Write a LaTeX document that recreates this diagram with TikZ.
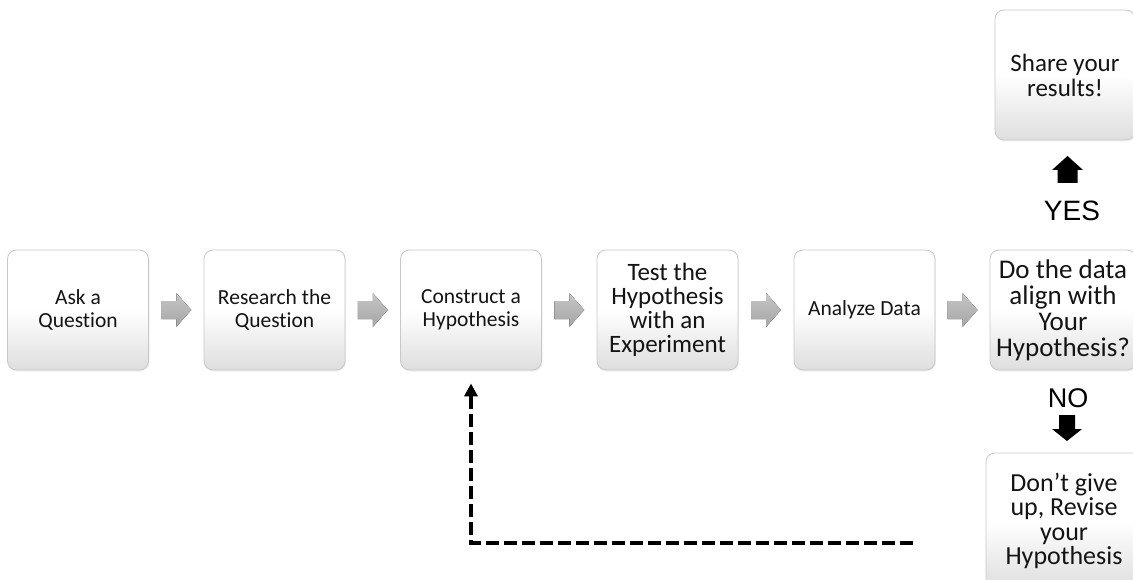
\documentclass[tikz,border=0pt]{standalone}
\usepackage{fontspec}
\setmainfont{Carlito}[Ligatures={NoCommon}]
\newfontfamily\arialfont{Liberation Sans}
\usetikzlibrary{calc,arrows.meta,shadows}
\definecolor{boxline}{RGB}{200,200,200}
\definecolor{boxbot}{RGB}{222,222,222}
\definecolor{txt}{RGB}{20,20,20}
\begin{document}
\begin{tikzpicture}[x=1pt,y=-1pt,
  stepbox/.style={draw=boxline, line width=0.8pt, rounded corners=9pt,
    top color=white, bottom color=boxbot, middle color=white,
    minimum width=141pt, minimum height=120pt, inner sep=0pt, align=center,
    text=txt, font=\fontsize{21.5}{22.5}\selectfont,
    drop shadow={opacity=0.12, shadow xshift=1pt, shadow yshift=-1.5pt}},
  answer/.style={font=\arialfont\fontsize{28}{28}\selectfont, text=black, inner sep=0pt},
  fb/.style={line width=4pt, dash pattern=on 13pt off 5pt, -{Triangle[width=13pt,length=13pt]}},
  grayarr/.pic={\fill[top color=gray!45, bottom color=gray!70]
      (-15,-9) -- (0,-9) -- (0,-17) -- (15,0) -- (0,17) -- (0,9) -- (-15,9) -- cycle;},
  uparr/.pic={\fill[black]
      (-10,13.5) -- (-10,0.5) -- (-15.5,0.5) -- (0,-13.5) -- (15.5,0.5) -- (10,0.5) -- (10,13.5) -- cycle;},
  downarr/.pic={\fill[black]
      (-8,-13) -- (-8,1) -- (-15,1) -- (0,13) -- (15,1) -- (8,1) -- (8,-13) -- cycle;}
]
\useasboundingbox (0,0) rectangle (1133,580);
\fill[white] (0,0) rectangle (1133,580);

\node[stepbox] (b1) at (78,310) {Ask a\\Question};
\node[stepbox] (b2) at (274.5,310) {Research the\\Question};
\node[stepbox] (b3) at (471,310) {Construct a\\Hypothesis};
\node[stepbox, font=\fontsize{25}{24}\selectfont] (b4) at (667.5,310) {Test the\\Hypothesis\\with an\\Experiment};
\node[stepbox] (b5) at (864.5,310) {Analyze Data};
\node[stepbox, minimum width=146pt, font=\fontsize{27}{26}\selectfont] (b6) at (1063,310) {Do the data\\align with\\Your\\Hypothesis?};
\node[stepbox, minimum width=140pt, minimum height=130pt, font=\fontsize{25}{25}\selectfont] (b7) at (1065,75) {Share your\\results!};
\node[stepbox, minimum width=156pt, minimum height=136pt, font=\fontsize{26}{24.5}\selectfont] (b8) at (1064,521) {Don’t give\\up, Revise\\your\\Hypothesis};

\pic at ($(b1.east)!0.5!(b2.west)$) {grayarr};
\pic at ($(b2.east)!0.5!(b3.west)$) {grayarr};
\pic at ($(b3.east)!0.5!(b4.west)$) {grayarr};
\pic at ($(b4.east)!0.5!(b5.west)$) {grayarr};
\pic at ($(b5.east)!0.5!(b6.west)$) {grayarr};

\pic at (1067.5,169.5) {uparr};
\node[answer] (yes) at (1072,210.5) {YES};
\node[answer, font=\arialfont\fontsize{27}{27}\selectfont] (no) at (1068,398) {NO};
\pic at (1067,428) {downarr};

\coordinate (dstart) at (913,543);
\draw[fb] (dstart) -| ([yshift=-13pt]b3.south);
\end{tikzpicture}
\end{document}
